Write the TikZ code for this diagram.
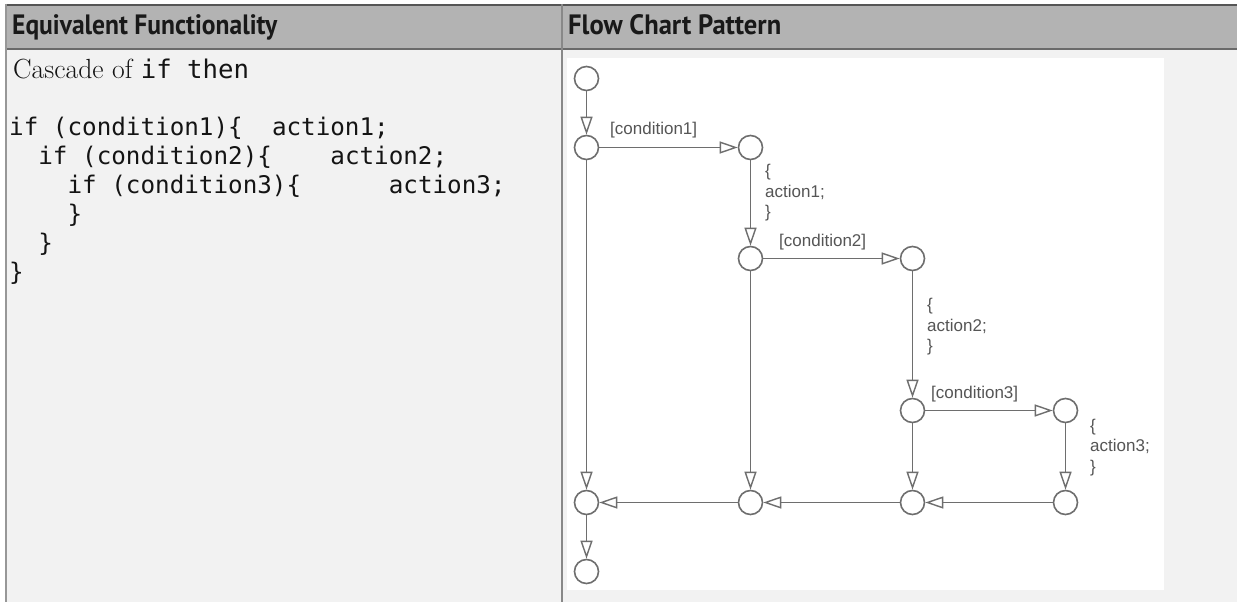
\documentclass[tikz,border=0pt]{standalone}
\usepackage{fontspec}
\usepackage{graphicx}
\usetikzlibrary{arrows.meta}
\newfontfamily\hdrfont{PT Sans}
\newfontfamily\codefont{DejaVu Sans Mono}
\newfontfamily\chartfont{Liberation Sans}
\definecolor{hdrfill}{HTML}{B3B3B3}
\definecolor{cellfill}{HTML}{F2F2F2}
\definecolor{rulecol}{HTML}{6A6A6A}
\definecolor{linecol}{HTML}{6E6E6E}
\definecolor{labcol}{HTML}{555555}
\tikzset{
  hdrtext/.style={anchor=base west, inner sep=0, text=black!90, font=\hdrfont\bfseries\fontsize{28}{30}\selectfont},
  codeline/.style={anchor=base west, inner sep=0, text=black!92, font=\codefont\fontsize{24.25}{29}\selectfont},
  junction/.style={circle, draw=linecol, fill=white, line width=1.6pt, minimum size=24pt, inner sep=0},
  flow/.style={draw=linecol, line width=1.7pt, -{Triangle[open, length=18pt, width=12pt, line width=1.4pt]}},
  chartlab/.style={anchor=base west, inner sep=0, text=labcol, font=\chartfont\fontsize{17}{20.5}\selectfont}
}
\begin{document}
\begin{tikzpicture}[x=1pt,y=-1pt]
\useasboundingbox (0,0) rectangle (1237,602);
\fill[white] (0,0) rectangle (1237,602);
% table
\fill[cellfill] (6,5) rectangle (1237,602);
\fill[hdrfill] (6,5) rectangle (1237,48.8);
\fill[white] (566.5,58) rectangle (1163.5,590);
\draw[rulecol!80!black, line width=1.6pt] (6,4.8) -- (1237,4.8);
\draw[rulecol, line width=2pt] (6,48.8) -- (1237,48.8);
\draw[rulecol!70, line width=1.6pt] (6,4) -- (6,602);
\draw[rulecol!80, line width=1.6pt] (562,4) -- (562,602);
% headers
\node[hdrtext] (h1) at (12,35) {\resizebox{265pt}{\height}{Equivalent Functionality}};
\node[hdrtext] (h2) at (568,35) {\resizebox{213pt}{\height}{Flow Chart Pattern}};
% left column text
\node[anchor=base west, inner sep=0, text=black!92] (intro) at (13,78.3)
  {\fontsize{27.7}{30}\selectfont Cascade of \codefont\fontsize{25.7}{30}\selectfont if then};
\node[codeline] (c1a) at (9,135) {if (condition1)\{};
\node[codeline] (c1b) at (9+18*14.6,135) {action1;};
\node[codeline] (c2a) at (9+2*14.6,164) {if (condition2)\{};
\node[codeline] (c2b) at (9+22*14.6,164) {action2;};
\node[codeline] (c3a) at (9+4*14.6,193) {if (condition3)\{};
\node[codeline] (c3b) at (9+26*14.6,193) {action3;};
\node[codeline] (c4) at (9+4*14.6,222) {\}};
\node[codeline] (c5) at (9+2*14.6,251) {\}};
\node[codeline] (c6) at (9,280) {\}};
% flow chart junctions
\node[junction] (s)  at (586.5,78.5) {};
\node[junction] (a1) at (586.5,147.5) {};
\node[junction] (b1) at (750.5,147.5) {};
\node[junction] (b2) at (750.5,258.5) {};
\node[junction] (c2) at (912.5,258.5) {};
\node[junction] (c3) at (912.5,410.5) {};
\node[junction] (d3) at (1065.5,410.5) {};
\node[junction] (a4) at (586.5,502.5) {};
\node[junction] (b4) at (750.5,502.5) {};
\node[junction] (c4j) at (912.5,502.5) {};
\node[junction] (d4) at (1065.5,502.5) {};
\node[junction] (e)  at (586.5,571.5) {};
% connectors
\draw[flow] (s) -- (a1);
\draw[flow] (a1) -- (b1);
\draw[flow] (a1) -- (a4);
\draw[flow] (b1) -- (b2);
\draw[flow] (b2) -- (c2);
\draw[flow] (b2) -- (b4);
\draw[flow] (c2) -- (c3);
\draw[flow] (c3) -- (d3);
\draw[flow] (c3) -- (c4j);
\draw[flow] (d3) -- (d4);
\draw[flow] (d4) -- (c4j);
\draw[flow] (c4j) -- (b4);
\draw[flow] (b4) -- (a4);
\draw[flow] (a4) -- (e);
% labels
\node[chartlab] (k1) at (610,134.5) {[condition1]};
\node[chartlab] (k2) at (779,246.3) {[condition2]};
\node[chartlab] (k3) at (931,398.6) {[condition3]};
\node[chartlab] (t1a) at (765,176.5) {\{};
\node[chartlab] (t1b) at (765,197) {action1;};
\node[chartlab] (t1c) at (765,217.5) {\}};
\node[chartlab] (t2a) at (927,310.5) {\{};
\node[chartlab] (t2b) at (927,331) {action2;};
\node[chartlab] (t2c) at (927,351.5) {\}};
\node[chartlab] (t3a) at (1090,431) {\{};
\node[chartlab] (t3b) at (1090,451.5) {action3;};
\node[chartlab] (t3c) at (1090,472) {\}};
\end{tikzpicture}
\end{document}
